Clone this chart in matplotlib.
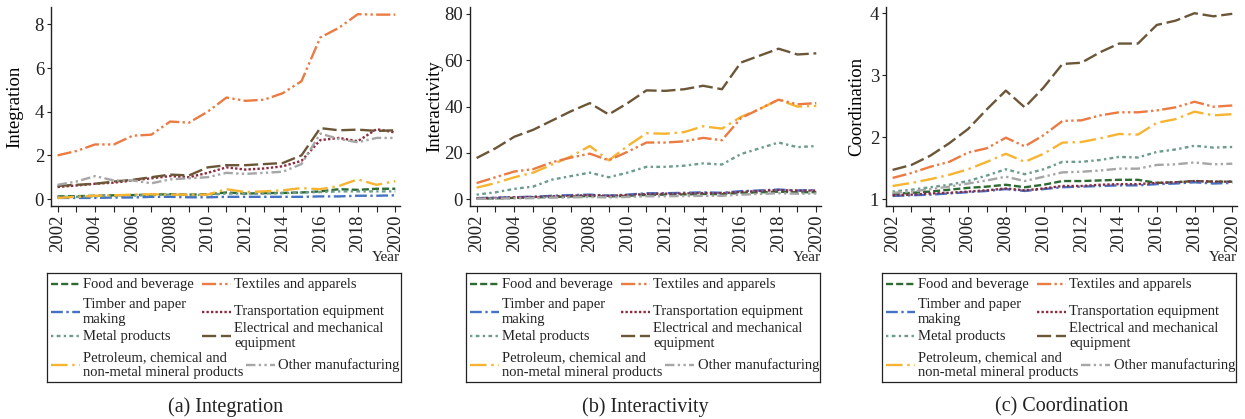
import numpy as np
import matplotlib as mpl
mpl.use("Agg")
import matplotlib.pyplot as plt
from matplotlib.ticker import MultipleLocator

mpl.rcParams.update({
    "font.family": ["Liberation Serif", "DejaVu Serif"],
    "font.size": 13.5,
    "axes.linewidth": 1.0,
    "axes.spines.top": False,
    "axes.spines.right": False,
    "xtick.major.size": 4,
    "ytick.major.size": 3,
})

# ------------------------------------------------------------------ #
# data
# ------------------------------------------------------------------ #
YEARS = list(range(2002, 2021))

INDUSTRIES = [
    "Food and beverage",
    "Timber and paper\nmaking",
    "Metal products",
    "Petroleum, chemical and\nnon-metal mineral products",
    "Textiles and apparels",
    "Transportation equipment",
    "Electrical and mechanical\nequipment",
    "Other manufacturing",
]

# (a) Integration
integ_food = [0.12, 0.13, 0.15, 0.17, 0.18, 0.2, 0.22, 0.2, 0.22, 0.3, 0.25, 0.27, 0.28, 0.3, 0.35, 0.45, 0.42, 0.47, 0.47]
integ_timber = [0.05, 0.05, 0.05, 0.07, 0.07, 0.1, 0.1, 0.08, 0.08, 0.1, 0.1, 0.1, 0.1, 0.1, 0.12, 0.12, 0.15, 0.15, 0.17]
integ_metal = [0.1, 0.1, 0.12, 0.14, 0.16, 0.18, 0.2, 0.18, 0.2, 0.25, 0.25, 0.25, 0.27, 0.3, 0.32, 0.35, 0.35, 0.35, 0.35]
integ_petro = [0.05, 0.1, 0.15, 0.17, 0.2, 0.22, 0.2, 0.2, 0.2, 0.45, 0.32, 0.35, 0.4, 0.5, 0.45, 0.6, 0.9, 0.65, 0.82]
integ_textile = [2.0, 2.2, 2.5, 2.5, 2.9, 2.95, 3.55, 3.5, 4.0, 4.65, 4.5, 4.55, 4.85, 5.4, 7.4, 7.85, 8.47, 8.45, 8.45]
integ_transport = [0.55, 0.62, 0.7, 0.75, 0.85, 0.95, 1.05, 1.0, 1.2, 1.45, 1.35, 1.4, 1.5, 1.75, 2.7, 2.8, 2.65, 3.2, 3.05]
integ_elec = [0.6, 0.65, 0.7, 0.8, 0.88, 1.0, 1.12, 1.08, 1.45, 1.55, 1.55, 1.6, 1.65, 2.0, 3.25, 3.15, 3.18, 3.12, 3.15]
integ_other = [0.65, 0.8, 1.05, 0.85, 0.85, 0.72, 0.9, 0.95, 1.0, 1.2, 1.15, 1.2, 1.25, 1.6, 3.0, 2.75, 2.6, 2.8, 2.8]

# (b) Interactivity
inter_food = [0.3, 0.4, 0.6, 0.8, 1.0, 1.2, 1.4, 1.2, 1.5, 1.9, 2.0, 2.1, 2.3, 2.2, 2.8, 3.0, 3.3, 3.0, 3.1]
inter_timber = [0.5, 0.7, 0.9, 1.1, 1.5, 1.8, 2.0, 1.6, 2.0, 2.6, 2.6, 2.8, 3.0, 2.8, 3.5, 3.8, 4.2, 3.8, 4.0]
inter_metal = [2.0, 3.0, 4.5, 5.5, 8.5, 10.0, 11.5, 9.5, 11.5, 14.0, 14.0, 14.5, 15.5, 15.0, 19.5, 22.0, 24.5, 22.5, 23.0]
inter_petro = [5.0, 7.0, 9.5, 11.5, 15.0, 18.5, 23.0, 16.8, 23.0, 28.5, 28.3, 29.0, 31.5, 30.5, 35.5, 39.0, 43.0, 40.0, 40.3]
inter_textile = [7.0, 9.5, 12.0, 13.0, 16.0, 18.0, 19.7, 16.8, 20.5, 24.5, 24.5, 25.0, 26.5, 25.5, 35.0, 39.0, 43.0, 41.0, 41.5]
inter_transport = [0.4, 0.6, 0.8, 1.0, 1.3, 1.5, 1.8, 1.5, 1.8, 2.3, 2.4, 2.5, 2.7, 2.6, 3.2, 3.6, 4.0, 3.7, 3.8]
inter_elec = [17.8, 22.0, 27.0, 30.0, 34.0, 38.0, 41.5, 36.6, 41.5, 47.0, 46.8, 47.5, 49.0, 47.5, 59.0, 62.0, 65.0, 62.5, 63.0]
inter_other = [0.2, 0.3, 0.4, 0.5, 0.7, 0.8, 1.0, 0.8, 1.0, 1.3, 1.3, 1.4, 1.5, 1.5, 2.0, 2.3, 2.6, 2.4, 2.5]

# (c) Coordination
coord_food = [1.08, 1.1, 1.12, 1.15, 1.18, 1.2, 1.23, 1.19, 1.23, 1.29, 1.29, 1.3, 1.31, 1.31, 1.26, 1.27, 1.29, 1.28, 1.28]
coord_timber = [1.05, 1.06, 1.07, 1.09, 1.11, 1.13, 1.16, 1.13, 1.16, 1.19, 1.2, 1.21, 1.22, 1.22, 1.24, 1.25, 1.27, 1.25, 1.26]
coord_metal = [1.12, 1.15, 1.19, 1.23, 1.29, 1.38, 1.48, 1.4, 1.48, 1.6, 1.6, 1.63, 1.68, 1.67, 1.76, 1.8, 1.86, 1.83, 1.84]
coord_petro = [1.21, 1.26, 1.32, 1.39, 1.48, 1.6, 1.73, 1.6, 1.73, 1.91, 1.92, 1.98, 2.05, 2.04, 2.23, 2.29, 2.41, 2.35, 2.37]
coord_textile = [1.34, 1.42, 1.52, 1.6, 1.75, 1.82, 1.99, 1.85, 2.03, 2.26, 2.27, 2.35, 2.4, 2.4, 2.43, 2.48, 2.57, 2.49, 2.51]
coord_transport = [1.06, 1.07, 1.09, 1.1, 1.12, 1.14, 1.17, 1.14, 1.17, 1.21, 1.21, 1.23, 1.24, 1.24, 1.26, 1.27, 1.29, 1.28, 1.28]
coord_elec = [1.47, 1.55, 1.7, 1.9, 2.13, 2.45, 2.75, 2.48, 2.8, 3.18, 3.2, 3.37, 3.51, 3.51, 3.81, 3.88, 4.0, 3.95, 3.99]
coord_other = [1.1, 1.12, 1.16, 1.2, 1.25, 1.3, 1.36, 1.29, 1.36, 1.43, 1.44, 1.46, 1.49, 1.49, 1.55, 1.56, 1.59, 1.56, 1.57]

# ------------------------------------------------------------------ #
# styles (same order as INDUSTRIES)
# ------------------------------------------------------------------ #
COLORS = ["#2e6a32", "#4472c4", "#6c9c8c", "#f7b431",
          "#eb7b43", "#8c2b3e", "#6b5638", "#a6a6a6"]
DASHES = [(0, (3, 1.3)),
          (0, (5, 1.5, 1, 1.5)),
          (0, (1, 1.4, 1.6, 1.4)),
          (0, (7, 2, 1, 2)),
          (0, (6, 1.4, 1, 1.4, 1, 1.4)),
          (0, (1, 0.9)),
          (0, (6, 2)),
          (0, (4, 1.4, 1, 1.4, 1, 1.4))]

# legend layout in px inside the legend box (handle x, row centre y)
LEG_POS = [(3.5, 11), (3.5, 38.5), (3.5, 63), (3.5, 92),
           (154.5, 11), (154.5, 38.5), (154.5, 63), (199, 92)]
LEG_W, LEG_H = 354, 109
HANDLE_LEN = 29

PANELS = [
    ("Integration", "(a) Integration",
     [integ_food, integ_timber, integ_metal, integ_petro,
      integ_textile, integ_transport, integ_elec, integ_other],
     (-0.32, 8.8), 2, 15),
    ("Interactivity", "(b) Interactivity",
     [inter_food, inter_timber, inter_metal, inter_petro,
      inter_textile, inter_transport, inter_elec, inter_other],
     (-2.9, 83), 20, 435),
    ("Coordination", "(c) Coordination",
     [coord_food, coord_timber, coord_metal, coord_petro,
      coord_textile, coord_transport, coord_elec, coord_other],
     (0.887, 4.1), 1, 857),
]

W, H = 1245, 419
BOXES = [(51, 400), (470, 821), (886, 1237)]  # axes left/right in px
TOP, BOTTOM = 7, 206
LEG_TOP = 273

fig = plt.figure(figsize=(W / 100, H / 100), dpi=100)

for (ylabel, caption, series, ylim, ystep, ylab_x), (l, r) in zip(PANELS, BOXES):
    ax = fig.add_axes([l / W, 1 - BOTTOM / H, (r - l) / W, (BOTTOM - TOP) / H])
    for name, vals, c, ls in zip(INDUSTRIES, series, COLORS, DASHES):
        ax.plot(YEARS, vals, color=c, ls=ls, lw=1.7, label=name)

    ax.set_xlim(2001.65, 2020.25)
    ax.set_ylim(*ylim)
    ax.set_xticks(YEARS)
    ax.set_xticklabels([str(y) if y % 2 == 0 else "" for y in YEARS], rotation=90)
    ax.yaxis.set_major_locator(MultipleLocator(ystep))
    ax.tick_params(axis="both", pad=2, colors="#222", labelcolor="#222")
    for sp in ax.spines.values():
        sp.set_color("#222")

    ax.set_ylabel(ylabel)
    ax.yaxis.set_label_coords((ylab_x + 8 - l) / (r - l), 0.5)
    ax.text(1.0, -0.26, "Year", transform=ax.transAxes, ha="right", va="center",
            fontsize=11, color="#222")

    # legend box (entries laid out as in the original, row 4 offset)
    lax = fig.add_axes([(l - 4) / W, 1 - (LEG_TOP + LEG_H) / H, LEG_W / W, LEG_H / H])
    lax.set_xlim(0, LEG_W)
    lax.set_ylim(LEG_H, 0)
    lax.set_xticks([])
    lax.set_yticks([])
    for sp in lax.spines.values():
        sp.set_visible(True)
        sp.set_color("#222")
        sp.set_linewidth(0.9)
    for name, c, ls, (hx, hy) in zip(INDUSTRIES, COLORS, DASHES, LEG_POS):
        lax.plot([hx, hx + HANDLE_LEN], [hy, hy], color=c, ls=ls, lw=1.7)
        lax.text(hx + HANDLE_LEN + 3.5, hy, name, ha="left", va="center",
                 fontsize=10.5, linespacing=1.2, color="#222")

    fig.text((l + r) / 2 / W, 1 - 407 / H, caption, ha="center", va="center",
             fontsize=14.5, color="#222")

fig.savefig("out.png", dpi=100)
